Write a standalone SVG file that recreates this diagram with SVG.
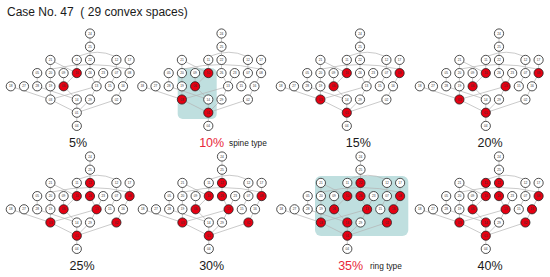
<svg xmlns="http://www.w3.org/2000/svg" xmlns:xlink="http://www.w3.org/1999/xlink" width="550" height="277" viewBox="0 0 550 277">
<style>
.bg{fill:#ffffff}
.shade{fill:#bfdfdf}
.e{stroke:#b3b3b3;stroke-width:0.7;fill:none}
circle{stroke:#222222;stroke-width:0.8;fill:#ffffff}
circle.r{fill:#e60012}
.n text{font-family:"Liberation Sans",Arial,sans-serif;font-size:3.2px;text-anchor:middle;fill:#333333}
.title{font-family:"Liberation Sans",Arial,sans-serif;font-size:12px;fill:#1a1a1a;white-space:pre}
.pct{font-family:"Liberation Sans",Arial,sans-serif;font-size:12.5px;text-anchor:middle;fill:#1a1a1a}
.pct.red{fill:#e8273a}
.type{font-family:"Liberation Sans",Arial,sans-serif;font-size:8.3px;fill:#1a1a1a}
</style>
<defs>
<g id="edges">
<line class="e" x1="90" y1="33.5" x2="90" y2="46.7"/>
<line class="e" x1="90" y1="46.7" x2="90" y2="59.9"/>
<path class="e" d="M79,56 Q98,48.5 114,56"/>
<path class="e" d="M52,69 Q90,60 128,69"/>
<line class="e" x1="50.4" y1="59.9" x2="50.4" y2="73.1"/>
<line class="e" x1="50.4" y1="59.9" x2="76.8" y2="73.1"/>
<line class="e" x1="76.8" y1="59.9" x2="76.8" y2="73.1"/>
<line class="e" x1="90" y1="59.9" x2="90" y2="73.1"/>
<line class="e" x1="116.4" y1="59.9" x2="116.4" y2="73.1"/>
<line class="e" x1="129.6" y1="59.9" x2="129.6" y2="73.1"/>
<line class="e" x1="37.2" y1="73.1" x2="37.2" y2="86.3"/>
<line class="e" x1="50.4" y1="73.1" x2="50.4" y2="86.3"/>
<line class="e" x1="63.6" y1="73.1" x2="63.6" y2="86.3"/>
<line class="e" x1="76.8" y1="73.1" x2="63.6" y2="86.3"/>
<line class="e" x1="90" y1="73.1" x2="96.6" y2="86.3"/>
<line class="e" x1="103.2" y1="73.1" x2="96.6" y2="86.3"/>
<line class="e" x1="116.4" y1="73.1" x2="109.8" y2="86.3"/>
<line class="e" x1="129.6" y1="73.1" x2="123" y2="86.3"/>
<line class="e" x1="10.8" y1="86.3" x2="50.4" y2="99.5"/>
<line class="e" x1="37.2" y1="86.3" x2="76.8" y2="99.5"/>
<line class="e" x1="50.4" y1="86.3" x2="50.4" y2="99.5"/>
<line class="e" x1="63.6" y1="86.3" x2="76.8" y2="99.5"/>
<line class="e" x1="96.6" y1="86.3" x2="50.4" y2="99.5"/>
<line class="e" x1="96.6" y1="86.3" x2="90" y2="99.5"/>
<line class="e" x1="123" y1="86.3" x2="116.4" y2="99.5"/>
<line class="e" x1="50.4" y1="99.5" x2="76.8" y2="112.7"/>
<line class="e" x1="76.8" y1="99.5" x2="76.8" y2="112.7"/>
<line class="e" x1="90" y1="99.5" x2="76.8" y2="112.7"/>
<line class="e" x1="116.4" y1="99.5" x2="76.8" y2="112.7"/>
<line class="e" x1="76.8" y1="112.7" x2="76.8" y2="125.9"/>
</g>
</defs>
<rect class="bg" x="0" y="0" width="550" height="277"/>
<text class="title" x="7" y="16" xml:space="preserve">Case No. 47  ( 29 convex spaces)</text>
<rect class="shade" x="177.7" y="68.3" width="39" height="50.7" rx="5"/>
<rect class="shade" x="315" y="176" width="93.3" height="60" rx="6"/>
<g id="connectors">
<use xlink:href="#edges" transform="translate(0,0)"/>
<use xlink:href="#edges" transform="translate(131.5,0)"/>
<use xlink:href="#edges" transform="translate(270,0)"/>
<use xlink:href="#edges" transform="translate(409,0)"/>
<use xlink:href="#edges" transform="translate(0,123)"/>
<use xlink:href="#edges" transform="translate(132,123)"/>
<use xlink:href="#edges" transform="translate(270.5,123)"/>
<use xlink:href="#edges" transform="translate(409,123)"/>
</g>

<g id="panel1" transform="translate(0,0)">
<g id="p1-24" class="n"><circle cx="90" cy="33.5" r="4.6"/><text x="90" y="34.6">24</text></g>
<g id="p1-25" class="n"><circle cx="90" cy="46.7" r="4.6"/><text x="90" y="47.8">25</text></g>
<g id="p1-21" class="n"><circle cx="50.4" cy="59.9" r="4.6"/><text x="50.4" y="61">21</text></g>
<g id="p1-11" class="n"><circle cx="76.8" cy="59.9" r="4.6"/><text x="76.8" y="61">11</text></g>
<g id="p1-22" class="n"><circle cx="90" cy="59.9" r="4.6"/><text x="90" y="61">22</text></g>
<g id="p1-12" class="n"><circle cx="116.4" cy="59.9" r="4.6"/><text x="116.4" y="61">12</text></g>
<g id="p1-17" class="n"><circle cx="129.6" cy="59.9" r="4.6"/><text x="129.6" y="61">17</text></g>
<g id="p1-05" class="n"><circle cx="37.2" cy="73.1" r="4.6"/><text x="37.2" y="74.2">05</text></g>
<g id="p1-20" class="n"><circle cx="50.4" cy="73.1" r="4.6"/><text x="50.4" y="74.2">20</text></g>
<g id="p1-09" class="n"><circle cx="63.6" cy="73.1" r="4.6"/><text x="63.6" y="74.2">09</text></g>
<g id="p1-10" class="n"><circle class="r" cx="76.8" cy="73.1" r="4.6"/><text x="76.8" y="74.2">10</text></g>
<g id="p1-26" class="n"><circle cx="90" cy="73.1" r="4.6"/><text x="90" y="74.2">26</text></g>
<g id="p1-23" class="n"><circle cx="103.2" cy="73.1" r="4.6"/><text x="103.2" y="74.2">23</text></g>
<g id="p1-07" class="n"><circle cx="116.4" cy="73.1" r="4.6"/><text x="116.4" y="74.2">07</text></g>
<g id="p1-08" class="n"><circle cx="129.6" cy="73.1" r="4.6"/><text x="129.6" y="74.2">08</text></g>
<g id="p1-18" class="n"><circle cx="10.8" cy="86.3" r="4.6"/><text x="10.8" y="87.4">18</text></g>
<g id="p1-27" class="n"><circle cx="24" cy="86.3" r="4.6"/><text x="24" y="87.4">27</text></g>
<g id="p1-28" class="n"><circle cx="37.2" cy="86.3" r="4.6"/><text x="37.2" y="87.4">28</text></g>
<g id="p1-19" class="n"><circle cx="50.4" cy="86.3" r="4.6"/><text x="50.4" y="87.4">19</text></g>
<g id="p1-06" class="n"><circle class="r" cx="63.6" cy="86.3" r="4.6"/><text x="63.6" y="87.4">06</text></g>
<g id="p1-13" class="n"><circle cx="96.6" cy="86.3" r="4.6"/><text x="96.6" y="87.4">13</text></g>
<g id="p1-15" class="n"><circle cx="109.8" cy="86.3" r="4.6"/><text x="109.8" y="87.4">15</text></g>
<g id="p1-16" class="n"><circle cx="123" cy="86.3" r="4.6"/><text x="123" y="87.4">16</text></g>
<g id="p1-03" class="n"><circle cx="50.4" cy="99.5" r="4.6"/><text x="50.4" y="100.6">03</text></g>
<g id="p1-14" class="n"><circle cx="76.8" cy="99.5" r="4.6"/><text x="76.8" y="100.6">14</text></g>
<g id="p1-29" class="n"><circle cx="90" cy="99.5" r="4.6"/><text x="90" y="100.6">29</text></g>
<g id="p1-02" class="n"><circle cx="116.4" cy="99.5" r="4.6"/><text x="116.4" y="100.6">02</text></g>
<g id="p1-01" class="n"><circle cx="76.8" cy="112.7" r="4.6"/><text x="76.8" y="113.8">01</text></g>
<g id="p1-04" class="n"><circle cx="76.8" cy="125.9" r="4.6"/><text x="76.8" y="127">04</text></g>
</g>

<g id="panel2" transform="translate(131.5,0)">
<g id="p2-24" class="n"><circle cx="90" cy="33.5" r="4.6"/><text x="90" y="34.6">24</text></g>
<g id="p2-25" class="n"><circle cx="90" cy="46.7" r="4.6"/><text x="90" y="47.8">25</text></g>
<g id="p2-21" class="n"><circle cx="50.4" cy="59.9" r="4.6"/><text x="50.4" y="61">21</text></g>
<g id="p2-11" class="n"><circle cx="76.8" cy="59.9" r="4.6"/><text x="76.8" y="61">11</text></g>
<g id="p2-22" class="n"><circle cx="90" cy="59.9" r="4.6"/><text x="90" y="61">22</text></g>
<g id="p2-12" class="n"><circle cx="116.4" cy="59.9" r="4.6"/><text x="116.4" y="61">12</text></g>
<g id="p2-17" class="n"><circle cx="129.6" cy="59.9" r="4.6"/><text x="129.6" y="61">17</text></g>
<g id="p2-05" class="n"><circle cx="37.2" cy="73.1" r="4.6"/><text x="37.2" y="74.2">05</text></g>
<g id="p2-20" class="n"><circle cx="50.4" cy="73.1" r="4.6"/><text x="50.4" y="74.2">20</text></g>
<g id="p2-09" class="n"><circle cx="63.6" cy="73.1" r="4.6"/><text x="63.6" y="74.2">09</text></g>
<g id="p2-10" class="n"><circle class="r" cx="76.8" cy="73.1" r="4.6"/><text x="76.8" y="74.2">10</text></g>
<g id="p2-26" class="n"><circle cx="90" cy="73.1" r="4.6"/><text x="90" y="74.2">26</text></g>
<g id="p2-23" class="n"><circle cx="103.2" cy="73.1" r="4.6"/><text x="103.2" y="74.2">23</text></g>
<g id="p2-07" class="n"><circle cx="116.4" cy="73.1" r="4.6"/><text x="116.4" y="74.2">07</text></g>
<g id="p2-08" class="n"><circle cx="129.6" cy="73.1" r="4.6"/><text x="129.6" y="74.2">08</text></g>
<g id="p2-18" class="n"><circle cx="10.8" cy="86.3" r="4.6"/><text x="10.8" y="87.4">18</text></g>
<g id="p2-27" class="n"><circle cx="24" cy="86.3" r="4.6"/><text x="24" y="87.4">27</text></g>
<g id="p2-28" class="n"><circle cx="37.2" cy="86.3" r="4.6"/><text x="37.2" y="87.4">28</text></g>
<g id="p2-19" class="n"><circle cx="50.4" cy="86.3" r="4.6"/><text x="50.4" y="87.4">19</text></g>
<g id="p2-06" class="n"><circle class="r" cx="63.6" cy="86.3" r="4.6"/><text x="63.6" y="87.4">06</text></g>
<g id="p2-13" class="n"><circle cx="96.6" cy="86.3" r="4.6"/><text x="96.6" y="87.4">13</text></g>
<g id="p2-15" class="n"><circle cx="109.8" cy="86.3" r="4.6"/><text x="109.8" y="87.4">15</text></g>
<g id="p2-16" class="n"><circle cx="123" cy="86.3" r="4.6"/><text x="123" y="87.4">16</text></g>
<g id="p2-03" class="n"><circle class="r" cx="50.4" cy="99.5" r="4.6"/><text x="50.4" y="100.6">03</text></g>
<g id="p2-14" class="n"><circle cx="76.8" cy="99.5" r="4.6"/><text x="76.8" y="100.6">14</text></g>
<g id="p2-29" class="n"><circle cx="90" cy="99.5" r="4.6"/><text x="90" y="100.6">29</text></g>
<g id="p2-02" class="n"><circle cx="116.4" cy="99.5" r="4.6"/><text x="116.4" y="100.6">02</text></g>
<g id="p2-01" class="n"><circle class="r" cx="76.8" cy="112.7" r="4.6"/><text x="76.8" y="113.8">01</text></g>
<g id="p2-04" class="n"><circle cx="76.8" cy="125.9" r="4.6"/><text x="76.8" y="127">04</text></g>
</g>

<g id="panel3" transform="translate(270,0)">
<g id="p3-24" class="n"><circle cx="90" cy="33.5" r="4.6"/><text x="90" y="34.6">24</text></g>
<g id="p3-25" class="n"><circle cx="90" cy="46.7" r="4.6"/><text x="90" y="47.8">25</text></g>
<g id="p3-21" class="n"><circle cx="50.4" cy="59.9" r="4.6"/><text x="50.4" y="61">21</text></g>
<g id="p3-11" class="n"><circle cx="76.8" cy="59.9" r="4.6"/><text x="76.8" y="61">11</text></g>
<g id="p3-22" class="n"><circle cx="90" cy="59.9" r="4.6"/><text x="90" y="61">22</text></g>
<g id="p3-12" class="n"><circle cx="116.4" cy="59.9" r="4.6"/><text x="116.4" y="61">12</text></g>
<g id="p3-17" class="n"><circle cx="129.6" cy="59.9" r="4.6"/><text x="129.6" y="61">17</text></g>
<g id="p3-05" class="n"><circle cx="37.2" cy="73.1" r="4.6"/><text x="37.2" y="74.2">05</text></g>
<g id="p3-20" class="n"><circle cx="50.4" cy="73.1" r="4.6"/><text x="50.4" y="74.2">20</text></g>
<g id="p3-09" class="n"><circle cx="63.6" cy="73.1" r="4.6"/><text x="63.6" y="74.2">09</text></g>
<g id="p3-10" class="n"><circle class="r" cx="76.8" cy="73.1" r="4.6"/><text x="76.8" y="74.2">10</text></g>
<g id="p3-26" class="n"><circle cx="90" cy="73.1" r="4.6"/><text x="90" y="74.2">26</text></g>
<g id="p3-23" class="n"><circle cx="103.2" cy="73.1" r="4.6"/><text x="103.2" y="74.2">23</text></g>
<g id="p3-07" class="n"><circle cx="116.4" cy="73.1" r="4.6"/><text x="116.4" y="74.2">07</text></g>
<g id="p3-08" class="n"><circle class="r" cx="129.6" cy="73.1" r="4.6"/><text x="129.6" y="74.2">08</text></g>
<g id="p3-18" class="n"><circle cx="10.8" cy="86.3" r="4.6"/><text x="10.8" y="87.4">18</text></g>
<g id="p3-27" class="n"><circle cx="24" cy="86.3" r="4.6"/><text x="24" y="87.4">27</text></g>
<g id="p3-28" class="n"><circle cx="37.2" cy="86.3" r="4.6"/><text x="37.2" y="87.4">28</text></g>
<g id="p3-19" class="n"><circle cx="50.4" cy="86.3" r="4.6"/><text x="50.4" y="87.4">19</text></g>
<g id="p3-06" class="n"><circle class="r" cx="63.6" cy="86.3" r="4.6"/><text x="63.6" y="87.4">06</text></g>
<g id="p3-13" class="n"><circle cx="96.6" cy="86.3" r="4.6"/><text x="96.6" y="87.4">13</text></g>
<g id="p3-15" class="n"><circle cx="109.8" cy="86.3" r="4.6"/><text x="109.8" y="87.4">15</text></g>
<g id="p3-16" class="n"><circle cx="123" cy="86.3" r="4.6"/><text x="123" y="87.4">16</text></g>
<g id="p3-03" class="n"><circle class="r" cx="50.4" cy="99.5" r="4.6"/><text x="50.4" y="100.6">03</text></g>
<g id="p3-14" class="n"><circle cx="76.8" cy="99.5" r="4.6"/><text x="76.8" y="100.6">14</text></g>
<g id="p3-29" class="n"><circle cx="90" cy="99.5" r="4.6"/><text x="90" y="100.6">29</text></g>
<g id="p3-02" class="n"><circle cx="116.4" cy="99.5" r="4.6"/><text x="116.4" y="100.6">02</text></g>
<g id="p3-01" class="n"><circle class="r" cx="76.8" cy="112.7" r="4.6"/><text x="76.8" y="113.8">01</text></g>
<g id="p3-04" class="n"><circle cx="76.8" cy="125.9" r="4.6"/><text x="76.8" y="127">04</text></g>
</g>

<g id="panel4" transform="translate(409,0)">
<g id="p4-24" class="n"><circle cx="90" cy="33.5" r="4.6"/><text x="90" y="34.6">24</text></g>
<g id="p4-25" class="n"><circle cx="90" cy="46.7" r="4.6"/><text x="90" y="47.8">25</text></g>
<g id="p4-21" class="n"><circle cx="50.4" cy="59.9" r="4.6"/><text x="50.4" y="61">21</text></g>
<g id="p4-11" class="n"><circle cx="76.8" cy="59.9" r="4.6"/><text x="76.8" y="61">11</text></g>
<g id="p4-22" class="n"><circle cx="90" cy="59.9" r="4.6"/><text x="90" y="61">22</text></g>
<g id="p4-12" class="n"><circle cx="116.4" cy="59.9" r="4.6"/><text x="116.4" y="61">12</text></g>
<g id="p4-17" class="n"><circle cx="129.6" cy="59.9" r="4.6"/><text x="129.6" y="61">17</text></g>
<g id="p4-05" class="n"><circle cx="37.2" cy="73.1" r="4.6"/><text x="37.2" y="74.2">05</text></g>
<g id="p4-20" class="n"><circle cx="50.4" cy="73.1" r="4.6"/><text x="50.4" y="74.2">20</text></g>
<g id="p4-09" class="n"><circle cx="63.6" cy="73.1" r="4.6"/><text x="63.6" y="74.2">09</text></g>
<g id="p4-10" class="n"><circle class="r" cx="76.8" cy="73.1" r="4.6"/><text x="76.8" y="74.2">10</text></g>
<g id="p4-26" class="n"><circle cx="90" cy="73.1" r="4.6"/><text x="90" y="74.2">26</text></g>
<g id="p4-23" class="n"><circle cx="103.2" cy="73.1" r="4.6"/><text x="103.2" y="74.2">23</text></g>
<g id="p4-07" class="n"><circle cx="116.4" cy="73.1" r="4.6"/><text x="116.4" y="74.2">07</text></g>
<g id="p4-08" class="n"><circle class="r" cx="129.6" cy="73.1" r="4.6"/><text x="129.6" y="74.2">08</text></g>
<g id="p4-18" class="n"><circle cx="10.8" cy="86.3" r="4.6"/><text x="10.8" y="87.4">18</text></g>
<g id="p4-27" class="n"><circle cx="24" cy="86.3" r="4.6"/><text x="24" y="87.4">27</text></g>
<g id="p4-28" class="n"><circle cx="37.2" cy="86.3" r="4.6"/><text x="37.2" y="87.4">28</text></g>
<g id="p4-19" class="n"><circle cx="50.4" cy="86.3" r="4.6"/><text x="50.4" y="87.4">19</text></g>
<g id="p4-06" class="n"><circle class="r" cx="63.6" cy="86.3" r="4.6"/><text x="63.6" y="87.4">06</text></g>
<g id="p4-13" class="n"><circle class="r" cx="96.6" cy="86.3" r="4.6"/><text x="96.6" y="87.4">13</text></g>
<g id="p4-15" class="n"><circle cx="109.8" cy="86.3" r="4.6"/><text x="109.8" y="87.4">15</text></g>
<g id="p4-16" class="n"><circle cx="123" cy="86.3" r="4.6"/><text x="123" y="87.4">16</text></g>
<g id="p4-03" class="n"><circle class="r" cx="50.4" cy="99.5" r="4.6"/><text x="50.4" y="100.6">03</text></g>
<g id="p4-14" class="n"><circle cx="76.8" cy="99.5" r="4.6"/><text x="76.8" y="100.6">14</text></g>
<g id="p4-29" class="n"><circle cx="90" cy="99.5" r="4.6"/><text x="90" y="100.6">29</text></g>
<g id="p4-02" class="n"><circle cx="116.4" cy="99.5" r="4.6"/><text x="116.4" y="100.6">02</text></g>
<g id="p4-01" class="n"><circle class="r" cx="76.8" cy="112.7" r="4.6"/><text x="76.8" y="113.8">01</text></g>
<g id="p4-04" class="n"><circle cx="76.8" cy="125.9" r="4.6"/><text x="76.8" y="127">04</text></g>
</g>

<g id="panel5" transform="translate(0,123)">
<g id="p5-24" class="n"><circle cx="90" cy="33.5" r="4.6"/><text x="90" y="34.6">24</text></g>
<g id="p5-25" class="n"><circle cx="90" cy="46.7" r="4.6"/><text x="90" y="47.8">25</text></g>
<g id="p5-21" class="n"><circle cx="50.4" cy="59.9" r="4.6"/><text x="50.4" y="61">21</text></g>
<g id="p5-11" class="n"><circle cx="76.8" cy="59.9" r="4.6"/><text x="76.8" y="61">11</text></g>
<g id="p5-22" class="n"><circle class="r" cx="90" cy="59.9" r="4.6"/><text x="90" y="61">22</text></g>
<g id="p5-12" class="n"><circle cx="116.4" cy="59.9" r="4.6"/><text x="116.4" y="61">12</text></g>
<g id="p5-17" class="n"><circle cx="129.6" cy="59.9" r="4.6"/><text x="129.6" y="61">17</text></g>
<g id="p5-05" class="n"><circle cx="37.2" cy="73.1" r="4.6"/><text x="37.2" y="74.2">05</text></g>
<g id="p5-20" class="n"><circle cx="50.4" cy="73.1" r="4.6"/><text x="50.4" y="74.2">20</text></g>
<g id="p5-09" class="n"><circle cx="63.6" cy="73.1" r="4.6"/><text x="63.6" y="74.2">09</text></g>
<g id="p5-10" class="n"><circle class="r" cx="76.8" cy="73.1" r="4.6"/><text x="76.8" y="74.2">10</text></g>
<g id="p5-26" class="n"><circle class="r" cx="90" cy="73.1" r="4.6"/><text x="90" y="74.2">26</text></g>
<g id="p5-23" class="n"><circle cx="103.2" cy="73.1" r="4.6"/><text x="103.2" y="74.2">23</text></g>
<g id="p5-07" class="n"><circle cx="116.4" cy="73.1" r="4.6"/><text x="116.4" y="74.2">07</text></g>
<g id="p5-08" class="n"><circle class="r" cx="129.6" cy="73.1" r="4.6"/><text x="129.6" y="74.2">08</text></g>
<g id="p5-18" class="n"><circle cx="10.8" cy="86.3" r="4.6"/><text x="10.8" y="87.4">18</text></g>
<g id="p5-27" class="n"><circle cx="24" cy="86.3" r="4.6"/><text x="24" y="87.4">27</text></g>
<g id="p5-28" class="n"><circle cx="37.2" cy="86.3" r="4.6"/><text x="37.2" y="87.4">28</text></g>
<g id="p5-19" class="n"><circle cx="50.4" cy="86.3" r="4.6"/><text x="50.4" y="87.4">19</text></g>
<g id="p5-06" class="n"><circle class="r" cx="63.6" cy="86.3" r="4.6"/><text x="63.6" y="87.4">06</text></g>
<g id="p5-13" class="n"><circle class="r" cx="96.6" cy="86.3" r="4.6"/><text x="96.6" y="87.4">13</text></g>
<g id="p5-15" class="n"><circle cx="109.8" cy="86.3" r="4.6"/><text x="109.8" y="87.4">15</text></g>
<g id="p5-16" class="n"><circle cx="123" cy="86.3" r="4.6"/><text x="123" y="87.4">16</text></g>
<g id="p5-03" class="n"><circle class="r" cx="50.4" cy="99.5" r="4.6"/><text x="50.4" y="100.6">03</text></g>
<g id="p5-14" class="n"><circle cx="76.8" cy="99.5" r="4.6"/><text x="76.8" y="100.6">14</text></g>
<g id="p5-29" class="n"><circle cx="90" cy="99.5" r="4.6"/><text x="90" y="100.6">29</text></g>
<g id="p5-02" class="n"><circle class="r" cx="116.4" cy="99.5" r="4.6"/><text x="116.4" y="100.6">02</text></g>
<g id="p5-01" class="n"><circle class="r" cx="76.8" cy="112.7" r="4.6"/><text x="76.8" y="113.8">01</text></g>
<g id="p5-04" class="n"><circle cx="76.8" cy="125.9" r="4.6"/><text x="76.8" y="127">04</text></g>
</g>

<g id="panel6" transform="translate(132,123)">
<g id="p6-24" class="n"><circle cx="90" cy="33.5" r="4.6"/><text x="90" y="34.6">24</text></g>
<g id="p6-25" class="n"><circle cx="90" cy="46.7" r="4.6"/><text x="90" y="47.8">25</text></g>
<g id="p6-21" class="n"><circle cx="50.4" cy="59.9" r="4.6"/><text x="50.4" y="61">21</text></g>
<g id="p6-11" class="n"><circle cx="76.8" cy="59.9" r="4.6"/><text x="76.8" y="61">11</text></g>
<g id="p6-22" class="n"><circle class="r" cx="90" cy="59.9" r="4.6"/><text x="90" y="61">22</text></g>
<g id="p6-12" class="n"><circle cx="116.4" cy="59.9" r="4.6"/><text x="116.4" y="61">12</text></g>
<g id="p6-17" class="n"><circle cx="129.6" cy="59.9" r="4.6"/><text x="129.6" y="61">17</text></g>
<g id="p6-05" class="n"><circle cx="37.2" cy="73.1" r="4.6"/><text x="37.2" y="74.2">05</text></g>
<g id="p6-20" class="n"><circle cx="50.4" cy="73.1" r="4.6"/><text x="50.4" y="74.2">20</text></g>
<g id="p6-09" class="n"><circle cx="63.6" cy="73.1" r="4.6"/><text x="63.6" y="74.2">09</text></g>
<g id="p6-10" class="n"><circle class="r" cx="76.8" cy="73.1" r="4.6"/><text x="76.8" y="74.2">10</text></g>
<g id="p6-26" class="n"><circle class="r" cx="90" cy="73.1" r="4.6"/><text x="90" y="74.2">26</text></g>
<g id="p6-23" class="n"><circle cx="103.2" cy="73.1" r="4.6"/><text x="103.2" y="74.2">23</text></g>
<g id="p6-07" class="n"><circle cx="116.4" cy="73.1" r="4.6"/><text x="116.4" y="74.2">07</text></g>
<g id="p6-08" class="n"><circle class="r" cx="129.6" cy="73.1" r="4.6"/><text x="129.6" y="74.2">08</text></g>
<g id="p6-18" class="n"><circle cx="10.8" cy="86.3" r="4.6"/><text x="10.8" y="87.4">18</text></g>
<g id="p6-27" class="n"><circle cx="24" cy="86.3" r="4.6"/><text x="24" y="87.4">27</text></g>
<g id="p6-28" class="n"><circle cx="37.2" cy="86.3" r="4.6"/><text x="37.2" y="87.4">28</text></g>
<g id="p6-19" class="n"><circle cx="50.4" cy="86.3" r="4.6"/><text x="50.4" y="87.4">19</text></g>
<g id="p6-06" class="n"><circle class="r" cx="63.6" cy="86.3" r="4.6"/><text x="63.6" y="87.4">06</text></g>
<g id="p6-13" class="n"><circle class="r" cx="96.6" cy="86.3" r="4.6"/><text x="96.6" y="87.4">13</text></g>
<g id="p6-15" class="n"><circle cx="109.8" cy="86.3" r="4.6"/><text x="109.8" y="87.4">15</text></g>
<g id="p6-16" class="n"><circle cx="123" cy="86.3" r="4.6"/><text x="123" y="87.4">16</text></g>
<g id="p6-03" class="n"><circle class="r" cx="50.4" cy="99.5" r="4.6"/><text x="50.4" y="100.6">03</text></g>
<g id="p6-14" class="n"><circle cx="76.8" cy="99.5" r="4.6"/><text x="76.8" y="100.6">14</text></g>
<g id="p6-29" class="n"><circle cx="90" cy="99.5" r="4.6"/><text x="90" y="100.6">29</text></g>
<g id="p6-02" class="n"><circle class="r" cx="116.4" cy="99.5" r="4.6"/><text x="116.4" y="100.6">02</text></g>
<g id="p6-01" class="n"><circle class="r" cx="76.8" cy="112.7" r="4.6"/><text x="76.8" y="113.8">01</text></g>
<g id="p6-04" class="n"><circle cx="76.8" cy="125.9" r="4.6"/><text x="76.8" y="127">04</text></g>
</g>

<g id="panel7" transform="translate(270.5,123)">
<g id="p7-24" class="n"><circle cx="90" cy="33.5" r="4.6"/><text x="90" y="34.6">24</text></g>
<g id="p7-25" class="n"><circle cx="90" cy="46.7" r="4.6"/><text x="90" y="47.8">25</text></g>
<g id="p7-21" class="n"><circle cx="50.4" cy="59.9" r="4.6"/><text x="50.4" y="61">21</text></g>
<g id="p7-11" class="n"><circle cx="76.8" cy="59.9" r="4.6"/><text x="76.8" y="61">11</text></g>
<g id="p7-22" class="n"><circle class="r" cx="90" cy="59.9" r="4.6"/><text x="90" y="61">22</text></g>
<g id="p7-12" class="n"><circle cx="116.4" cy="59.9" r="4.6"/><text x="116.4" y="61">12</text></g>
<g id="p7-17" class="n"><circle cx="129.6" cy="59.9" r="4.6"/><text x="129.6" y="61">17</text></g>
<g id="p7-05" class="n"><circle cx="37.2" cy="73.1" r="4.6"/><text x="37.2" y="74.2">05</text></g>
<g id="p7-20" class="n"><circle cx="50.4" cy="73.1" r="4.6"/><text x="50.4" y="74.2">20</text></g>
<g id="p7-09" class="n"><circle cx="63.6" cy="73.1" r="4.6"/><text x="63.6" y="74.2">09</text></g>
<g id="p7-10" class="n"><circle class="r" cx="76.8" cy="73.1" r="4.6"/><text x="76.8" y="74.2">10</text></g>
<g id="p7-26" class="n"><circle class="r" cx="90" cy="73.1" r="4.6"/><text x="90" y="74.2">26</text></g>
<g id="p7-23" class="n"><circle cx="103.2" cy="73.1" r="4.6"/><text x="103.2" y="74.2">23</text></g>
<g id="p7-07" class="n"><circle cx="116.4" cy="73.1" r="4.6"/><text x="116.4" y="74.2">07</text></g>
<g id="p7-08" class="n"><circle class="r" cx="129.6" cy="73.1" r="4.6"/><text x="129.6" y="74.2">08</text></g>
<g id="p7-18" class="n"><circle cx="10.8" cy="86.3" r="4.6"/><text x="10.8" y="87.4">18</text></g>
<g id="p7-27" class="n"><circle cx="24" cy="86.3" r="4.6"/><text x="24" y="87.4">27</text></g>
<g id="p7-28" class="n"><circle cx="37.2" cy="86.3" r="4.6"/><text x="37.2" y="87.4">28</text></g>
<g id="p7-19" class="n"><circle cx="50.4" cy="86.3" r="4.6"/><text x="50.4" y="87.4">19</text></g>
<g id="p7-06" class="n"><circle class="r" cx="63.6" cy="86.3" r="4.6"/><text x="63.6" y="87.4">06</text></g>
<g id="p7-13" class="n"><circle class="r" cx="96.6" cy="86.3" r="4.6"/><text x="96.6" y="87.4">13</text></g>
<g id="p7-15" class="n"><circle cx="109.8" cy="86.3" r="4.6"/><text x="109.8" y="87.4">15</text></g>
<g id="p7-16" class="n"><circle class="r" cx="123" cy="86.3" r="4.6"/><text x="123" y="87.4">16</text></g>
<g id="p7-03" class="n"><circle class="r" cx="50.4" cy="99.5" r="4.6"/><text x="50.4" y="100.6">03</text></g>
<g id="p7-14" class="n"><circle class="r" cx="76.8" cy="99.5" r="4.6"/><text x="76.8" y="100.6">14</text></g>
<g id="p7-29" class="n"><circle cx="90" cy="99.5" r="4.6"/><text x="90" y="100.6">29</text></g>
<g id="p7-02" class="n"><circle class="r" cx="116.4" cy="99.5" r="4.6"/><text x="116.4" y="100.6">02</text></g>
<g id="p7-01" class="n"><circle class="r" cx="76.8" cy="112.7" r="4.6"/><text x="76.8" y="113.8">01</text></g>
<g id="p7-04" class="n"><circle cx="76.8" cy="125.9" r="4.6"/><text x="76.8" y="127">04</text></g>
</g>

<g id="panel8" transform="translate(409,123)">
<g id="p8-24" class="n"><circle cx="90" cy="33.5" r="4.6"/><text x="90" y="34.6">24</text></g>
<g id="p8-25" class="n"><circle cx="90" cy="46.7" r="4.6"/><text x="90" y="47.8">25</text></g>
<g id="p8-21" class="n"><circle cx="50.4" cy="59.9" r="4.6"/><text x="50.4" y="61">21</text></g>
<g id="p8-11" class="n"><circle class="r" cx="76.8" cy="59.9" r="4.6"/><text x="76.8" y="61">11</text></g>
<g id="p8-22" class="n"><circle class="r" cx="90" cy="59.9" r="4.6"/><text x="90" y="61">22</text></g>
<g id="p8-12" class="n"><circle cx="116.4" cy="59.9" r="4.6"/><text x="116.4" y="61">12</text></g>
<g id="p8-17" class="n"><circle cx="129.6" cy="59.9" r="4.6"/><text x="129.6" y="61">17</text></g>
<g id="p8-05" class="n"><circle cx="37.2" cy="73.1" r="4.6"/><text x="37.2" y="74.2">05</text></g>
<g id="p8-20" class="n"><circle cx="50.4" cy="73.1" r="4.6"/><text x="50.4" y="74.2">20</text></g>
<g id="p8-09" class="n"><circle cx="63.6" cy="73.1" r="4.6"/><text x="63.6" y="74.2">09</text></g>
<g id="p8-10" class="n"><circle class="r" cx="76.8" cy="73.1" r="4.6"/><text x="76.8" y="74.2">10</text></g>
<g id="p8-26" class="n"><circle class="r" cx="90" cy="73.1" r="4.6"/><text x="90" y="74.2">26</text></g>
<g id="p8-23" class="n"><circle cx="103.2" cy="73.1" r="4.6"/><text x="103.2" y="74.2">23</text></g>
<g id="p8-07" class="n"><circle cx="116.4" cy="73.1" r="4.6"/><text x="116.4" y="74.2">07</text></g>
<g id="p8-08" class="n"><circle class="r" cx="129.6" cy="73.1" r="4.6"/><text x="129.6" y="74.2">08</text></g>
<g id="p8-18" class="n"><circle cx="10.8" cy="86.3" r="4.6"/><text x="10.8" y="87.4">18</text></g>
<g id="p8-27" class="n"><circle cx="24" cy="86.3" r="4.6"/><text x="24" y="87.4">27</text></g>
<g id="p8-28" class="n"><circle cx="37.2" cy="86.3" r="4.6"/><text x="37.2" y="87.4">28</text></g>
<g id="p8-19" class="n"><circle cx="50.4" cy="86.3" r="4.6"/><text x="50.4" y="87.4">19</text></g>
<g id="p8-06" class="n"><circle class="r" cx="63.6" cy="86.3" r="4.6"/><text x="63.6" y="87.4">06</text></g>
<g id="p8-13" class="n"><circle class="r" cx="96.6" cy="86.3" r="4.6"/><text x="96.6" y="87.4">13</text></g>
<g id="p8-15" class="n"><circle cx="109.8" cy="86.3" r="4.6"/><text x="109.8" y="87.4">15</text></g>
<g id="p8-16" class="n"><circle class="r" cx="123" cy="86.3" r="4.6"/><text x="123" y="87.4">16</text></g>
<g id="p8-03" class="n"><circle class="r" cx="50.4" cy="99.5" r="4.6"/><text x="50.4" y="100.6">03</text></g>
<g id="p8-14" class="n"><circle class="r" cx="76.8" cy="99.5" r="4.6"/><text x="76.8" y="100.6">14</text></g>
<g id="p8-29" class="n"><circle cx="90" cy="99.5" r="4.6"/><text x="90" y="100.6">29</text></g>
<g id="p8-02" class="n"><circle class="r" cx="116.4" cy="99.5" r="4.6"/><text x="116.4" y="100.6">02</text></g>
<g id="p8-01" class="n"><circle class="r" cx="76.8" cy="112.7" r="4.6"/><text x="76.8" y="113.8">01</text></g>
<g id="p8-04" class="n"><circle cx="76.8" cy="125.9" r="4.6"/><text x="76.8" y="127">04</text></g>
</g>

<text class="pct" x="78" y="146.5">5%</text>
<text class="pct red" x="211.7" y="146.5">10%</text>
<text class="type" x="229" y="146">spine type</text>
<text class="pct" x="358.3" y="146.5">15%</text>
<text class="pct" x="490" y="146.5">20%</text>
<text class="pct" x="82" y="269.5">25%</text>
<text class="pct" x="211.7" y="269.5">30%</text>
<text class="pct red" x="350.7" y="269.5">35%</text>
<text class="type" x="370" y="269">ring type</text>
<text class="pct" x="490" y="269.5">40%</text>
</svg>
